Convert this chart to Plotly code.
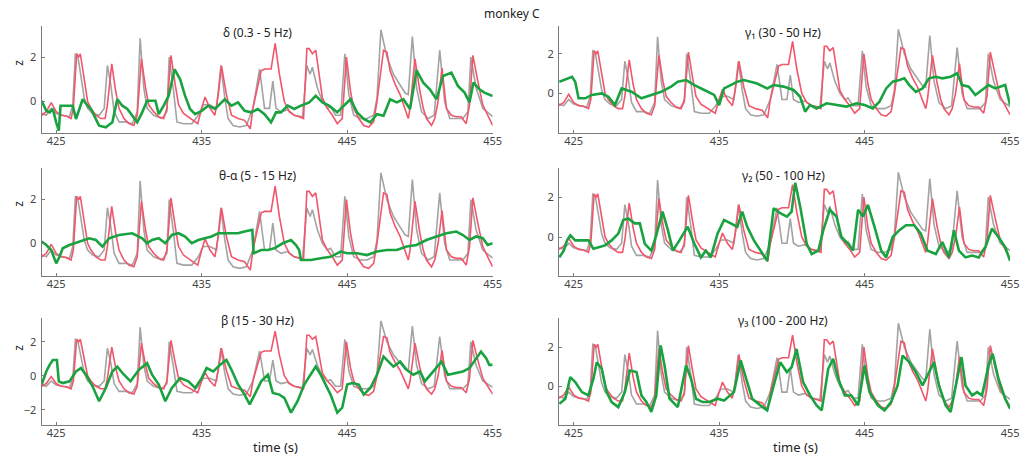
import plotly.graph_objects as go

# ---------------- data ----------------
# shared actual (gray) and reference/prediction (red) traces, time in s, value in z
gray_t = [424.0, 424.32, 424.66, 425.0, 425.45, 425.91, 426.14, 426.32, 426.48, 426.70, 426.93, 427.16, 427.5,
          427.95, 428.30, 428.52, 428.75, 428.98, 429.32, 429.77, 430.23, 430.57, 430.77, 431.02, 431.25, 431.70,
          432.27, 432.61, 432.77, 433.07, 433.30, 433.75, 434.32, 434.77, 435.11, 435.57, 436.02, 436.32, 436.59,
          436.82, 437.16, 437.61, 438.07, 438.52, 438.98, 439.32, 439.66, 439.89, 440.11, 440.45, 440.91, 441.36,
          441.93, 442.23, 442.45, 442.61, 442.95, 443.30, 443.64, 443.86, 444.20, 444.55, 444.84, 445.11, 445.45,
          445.91, 446.36, 446.82, 447.05, 447.32, 447.73, 448.18, 448.64, 448.98, 449.20, 449.48, 449.77, 450.11,
          450.57, 450.98, 451.36, 451.70, 452.05, 452.5, 452.95, 453.30, 453.50, 453.86, 454.32, 455.0]
gray_z = [-0.54, -0.62, -0.31, -0.54, -0.62, -0.69, -0.15, 2.15, 2.08, 1.23, 0.15, -0.31, -0.54,
          -0.62, -0.31, 1.62, 0.77, -0.46, -0.92, -0.92, -1.0, -0.46, 2.85, 0.62, -0.31, -0.62,
          -0.77, -0.46, 2.0, 0.46, -0.92, -1.0, -1.0, -0.62, -0.15, -0.15, -0.31, 1.62, 0.15,
          -0.77, -1.08, -1.15, -1.08, -0.31, 1.46, -0.31, -0.31, 0.92, -0.31, -0.46, -0.38, -0.62,
          -0.69, 1.62, 1.23, 1.54, 0.62, 0.0, -0.31, -0.23, -0.62, -0.62, 2.15, 0.31, -0.62,
          -0.77, -0.77, -0.62, 0.15, 3.23, 2.0, 1.23, 0.77, 0.38, 0.31, 2.92, 0.62, -0.46,
          -0.77, -0.62, 2.31, 0.0, -0.77, -0.77, -0.77, -0.46, 2.0, 0.62, -0.31, -0.68]

red_t = [424.0, 424.32, 424.66, 425.0, 425.34, 425.68, 426.02, 426.18, 426.41, 426.55, 426.66, 426.93, 427.16,
         427.39, 427.73, 428.07, 428.36, 428.52, 428.82, 429.09, 429.32, 429.66, 430.0, 430.34, 430.57, 430.86,
         431.14, 431.36, 431.70, 432.05, 432.39, 432.61, 432.89, 433.18, 433.41, 433.75, 434.09, 434.43, 434.73,
         435.0, 435.23, 435.57, 435.91, 436.14, 436.36, 436.70, 437.05, 437.5, 437.95, 438.34, 438.52, 439.09,
         439.32, 439.77, 440.05, 440.34, 440.68, 441.02, 441.36, 441.70, 442.0, 442.23, 442.39, 442.61, 442.84,
         443.07, 443.30, 443.64, 443.98, 444.32, 444.66, 444.95, 445.23, 445.45, 445.80, 446.14, 446.48, 446.82,
         447.05, 447.5, 447.73, 447.95, 448.30, 448.64, 448.98, 449.20, 449.32, 449.66, 450.0, 450.23, 450.45,
         450.80, 451.02, 451.25, 451.52, 451.82, 452.16, 452.5, 452.84, 453.18, 453.41, 453.64, 453.98, 454.32,
         454.66, 455.0]
red_z = [-0.62, -0.46, -0.05, -0.46, -0.62, -0.65, -0.77, -0.31, 2.15, 2.0, 2.15, 0.92, 0.0,
         -0.31, -0.62, -0.77, -0.77, -0.15, 1.69, 0.46, -0.31, -0.77, -1.0, -1.08, -0.62, 1.92,
         0.62, -0.15, -0.46, -0.69, -0.77, -0.31, 2.08, 0.77, -0.15, -0.54, -0.69, -0.85, -1.0,
         -0.31, 0.2, -0.31, -0.62, 0.31, 1.62, 0.31, -0.62, -0.77, -0.85, -1.23, -0.31, 1.38,
         1.46, 1.46, 2.62, 1.23, 0.0, -0.46, -0.62, -0.69, -0.77, 2.38, 2.38, 2.15, 2.31,
         1.23, 0.15, -0.31, -0.62, -1.0, -0.77, 2.0, 0.46, -0.31, -0.77, -1.08, -1.15, -0.92,
         0.0, 2.31, 2.23, 1.38, 0.77, 0.31, -0.31, -0.77, -0.31, 1.92, 0.46, -0.31, -0.77,
         -1.08, -0.77, 0.0, 1.5, -0.31, -0.62, -0.69, -0.69, -1.0, -0.15, 2.08, 0.92, -0.15,
         -0.62, -1.08]

# band-specific (green) traces
delta_t = [424.0, 424.32, 424.55, 424.77, 425.0, 425.18, 425.30, 425.68, 426.14, 426.36, 426.82, 427.16, 427.39,
           427.61, 427.95, 428.41, 428.86, 429.20, 429.55, 429.89, 430.23, 430.57, 430.91, 431.25, 431.82, 432.05,
           432.39, 432.73, 433.14, 433.52, 433.86, 434.20, 434.55, 435.0, 435.45, 435.91, 436.59, 437.05, 437.5,
           437.95, 438.41, 438.86, 439.32, 439.77, 440.11, 440.45, 440.91, 441.36, 441.82, 442.39, 442.84, 443.30,
           443.75, 444.32, 444.77, 445.23, 445.68, 446.14, 446.59, 447.05, 447.5, 447.95, 448.41, 448.86, 449.32,
           449.77, 450.23, 450.68, 451.14, 451.59, 452.16, 452.61, 453.07, 453.41, 453.68, 454.09, 454.43, 455.0]
delta_z = [0.03, -0.42, -0.49, -0.34, -0.94, -1.31, -0.19, -0.19, -0.19, -0.79, 0.1, -0.19, -0.34,
           -0.64, -1.09, -1.16, -0.94, 0.1, -0.19, -0.34, -0.64, -0.94, -0.49, 0.03, 0.03, -0.57,
           -0.19, 0.25, 1.45, 1.0, 0.25, -0.34, -0.57, -0.42, -0.19, -0.34, 0.1, -0.19, -0.04,
           -0.42, -0.49, -0.34, -0.57, -0.94, -0.49, -0.49, -0.19, -0.34, -0.19, -0.04, 0.25, -0.04,
           -0.19, -0.49, -0.19, 0.1, -0.49, -0.79, -0.94, -0.57, -0.64, 0.1, -0.04, 0.1, -0.34,
           1.4, 0.85, 0.55, 0.1, 1.15, 1.3, 0.7, 0.4, -0.04, 0.85, 0.55, 0.4, 0.25]

theta_t = [424.0, 424.32, 424.66, 425.0, 425.23, 425.45, 425.91, 426.59, 427.27, 427.73, 428.18, 428.64, 429.32,
           430.23, 430.91, 431.25, 431.59, 432.05, 432.5, 432.95, 433.41, 433.86, 434.32, 434.77, 435.23, 435.68,
           436.14, 436.82, 437.5, 437.95, 438.48, 438.57, 439.09, 439.55, 440.0, 440.57, 441.14, 441.48, 441.70,
           441.82, 442.5, 443.18, 443.86, 444.55, 445.0, 445.68, 446.36, 447.05, 447.73, 448.41, 449.09, 449.77,
           450.45, 451.14, 451.82, 452.5, 452.95, 453.41, 453.86, 454.32, 454.66, 455.0]
theta_z = [0.08, -0.08, -0.31, -0.92, -0.62, -0.23, -0.08, 0.08, 0.23, 0.15, -0.15, 0.23, 0.38,
           0.46, 0.23, 0.0, 0.15, 0.23, 0.0, 0.38, 0.46, 0.31, 0.0, 0.15, 0.23, 0.31,
           0.46, 0.46, 0.46, 0.54, 0.62, -0.46, -0.31, -0.31, -0.23, 0.0, 0.15, -0.08, -0.31,
           -0.77, -0.77, -0.69, -0.62, -0.38, -0.46, -0.46, -0.54, -0.38, -0.31, -0.31, -0.15, -0.08,
           0.15, 0.31, 0.46, 0.54, 0.38, 0.15, 0.31, 0.23, -0.08, 0.0]

beta_t = [424.0, 424.32, 424.55, 424.77, 425.05, 425.18, 425.45, 425.91, 426.36, 426.70, 427.05, 427.5, 427.95,
          428.41, 428.86, 429.20, 429.66, 430.11, 430.68, 431.25, 431.59, 432.05, 432.5, 432.95, 433.52, 434.09,
          434.55, 435.0, 435.34, 435.80, 436.25, 436.70, 437.05, 437.5, 437.95, 438.30, 438.64, 439.09, 439.55,
          439.89, 440.34, 440.68, 441.14, 441.59, 442.05, 442.5, 442.84, 443.18, 443.52, 443.86, 444.32, 444.66,
          445.0, 445.34, 445.80, 446.14, 446.59, 447.05, 447.5, 447.84, 448.18, 448.64, 449.09, 449.55, 450.0,
          450.34, 450.91, 451.48, 451.93, 452.39, 452.95, 453.41, 453.86, 454.20, 454.55, 454.77, 455.0]
beta_z = [-0.52, 0.25, 0.64, 0.93, 0.93, -0.33, -0.43, -0.33, 0.25, 0.45, 0.06, -0.62, -1.5,
          -0.72, 0.25, 0.54, 0.06, -0.33, 0.35, 0.74, 0.06, -0.52, -1.5, -0.72, -0.14, -0.33,
          -0.72, -0.14, 0.45, 0.25, 0.64, 0.93, 0.35, -0.52, -1.11, -1.69, -1.11, -0.33, 0.06,
          -1.01, -1.11, -1.30, -2.17, -1.5, -0.52, 0.06, 0.54, 0.06, -0.52, -1.11, -2.17, -1.88,
          -0.52, -0.43, -0.52, -1.11, -0.72, 0.06, 1.13, 0.83, 0.54, 0.83, 0.35, 0.06, 0.25,
          -0.33, 0.25, 0.83, 0.06, 0.16, 0.25, 0.45, 1.03, 1.42, 1.03, 0.64, 0.64]

g1_t = [424.02, 424.32, 424.66, 424.89, 425.11, 425.34, 425.80, 426.25, 426.93, 427.39, 427.84, 428.30, 428.98,
        429.66, 430.34, 431.02, 431.70, 432.16, 432.73, 433.30, 433.98, 434.66, 435.0, 435.34, 435.80, 436.25,
        436.70, 437.16, 437.61, 438.30, 438.75, 439.43, 440.11, 440.57, 440.91, 441.25, 441.70, 442.39, 443.07,
        443.75, 444.43, 445.0, 445.57, 446.02, 446.48, 446.93, 447.39, 447.73, 448.07, 448.52, 448.98, 449.43,
        449.89, 450.34, 450.91, 451.36, 451.70, 452.16, 452.61, 453.07, 453.52, 453.98, 454.43, 454.66, 455.0]
g1_z = [0.59, 0.67, 0.76, 0.84, 0.59, -0.25, -0.25, -0.08, 0.0, -0.17, -0.59, 0.25, 0.08,
        -0.25, -0.08, 0.08, 0.34, 0.59, 0.67, 0.42, 0.17, -0.08, -0.59, 0.25, 0.42, 0.59,
        0.67, 0.59, 0.50, 0.25, 0.42, 0.34, 0.17, -0.17, -0.92, -0.59, -0.76, -0.50, -0.59,
        -0.67, -0.50, -0.59, -0.76, -0.42, 0.25, 0.59, 0.67, 0.76, 0.42, 0.08, 0.25, 0.76,
        0.84, 0.76, 0.84, 1.01, 0.42, 0.34, -0.08, 0.17, 0.42, 0.25, 0.34, 0.42, -0.59]

g2_t = [424.02, 424.32, 424.55, 424.77, 425.11, 425.57, 426.02, 426.36, 426.70, 427.16, 427.61, 428.07, 428.41,
        428.75, 429.20, 429.55, 429.89, 430.34, 430.68, 431.11, 431.48, 431.82, 432.27, 432.84, 433.30, 433.75,
        434.09, 434.43, 434.89, 435.34, 435.80, 436.25, 436.59, 436.93, 437.39, 437.84, 438.30, 438.75, 439.20,
        439.66, 439.98, 440.23, 440.57, 441.02, 441.36, 441.82, 442.16, 442.61, 443.07, 443.41, 443.86, 444.20,
        444.55, 444.89, 445.23, 445.68, 446.14, 446.48, 446.93, 447.39, 447.84, 448.41, 448.86, 449.32, 449.89,
        450.34, 450.80, 451.14, 451.48, 451.93, 452.39, 452.84, 453.30, 453.75, 454.20, 454.66, 455.0]
g2_z = [-1.02, -0.68, -0.17, 0.08, -0.17, -0.17, -0.17, -0.59, -0.51, -0.42, -0.17, 0.17, 0.85,
        0.93, 0.68, 0.68, -0.34, -0.68, 0.08, 1.27, 0.34, -0.68, -0.17, 0.51, -0.34, -1.02,
        -0.68, -1.02, 0.17, 0.85, 0.68, 0.51, 1.27, 0.51, -0.17, -0.68, -1.19, 1.44, 1.19,
        1.02, 1.27, 2.71, 1.53, -0.34, -0.85, -0.68, 0.34, 1.36, 1.02, 0.0, -0.34, -0.68,
        1.36, 1.02, 1.61, 0.51, -0.68, -1.02, 0.0, 0.34, 0.59, 0.59, 0.17, -0.68, -0.85,
        -0.25, -1.02, 0.34, -0.68, -1.02, -0.93, -1.02, -0.51, 0.42, 0.0, -0.51, -1.19]

g3_t = [424.02, 424.43, 424.77, 425.11, 425.57, 426.02, 426.36, 426.59, 426.93, 427.27, 427.61, 428.07, 428.52,
        428.86, 429.32, 429.66, 430.0, 430.34, 430.68, 430.98, 431.25, 431.59, 432.16, 432.73, 433.07, 433.41,
        433.86, 434.32, 434.89, 435.34, 436.02, 436.48, 436.93, 437.27, 437.84, 438.30, 438.75, 439.20, 439.66,
        439.98, 440.32, 440.77, 441.25, 441.70, 442.05, 442.5, 442.84, 443.18, 443.64, 444.09, 444.55, 445.0,
        445.34, 445.91, 446.36, 446.82, 447.27, 447.61, 448.07, 448.52, 448.98, 449.43, 449.77, 450.11, 450.57,
        450.91, 451.36, 451.66, 451.93, 452.39, 452.73, 453.07, 453.52, 453.80, 454.20, 454.66, 455.0]
g3_z = [-0.91, -0.65, 0.46, 0.21, -0.31, -0.48, 0.38, 1.23, 0.89, -0.31, -0.82, -1.08, -0.31,
        0.80, 0.72, -0.48, -0.82, -1.33, -0.48, 2.09, 1.06, -0.65, -1.08, 1.06, 0.38, -0.65,
        -0.82, -0.82, -0.65, -0.74, -0.31, 1.32, 0.21, -0.65, -0.99, -1.25, 0.03, 1.23, 0.72,
        0.97, 1.91, 0.21, -0.48, -0.99, -1.25, 0.89, 1.40, 0.38, -0.48, -0.48, -0.99, 1.06,
        -0.31, -0.99, -1.25, -0.82, 0.03, 1.57, 1.23, 0.72, 0.03, 0.72, 1.23, 0.03, -0.99,
        -1.33, 0.38, 1.49, 0.03, -0.48, -0.31, -0.48, 1.06, 1.66, 0.38, -0.65, -1.16]

panel_titles = ["δ (0.3 - 5 Hz)", "γ₁ (30 - 50 Hz)",
                "θ-α (5 - 15 Hz)", "γ₂ (50 - 100 Hz)",
                "β (15 - 30 Hz)", "γ₃ (100 - 200 Hz)"]
green_t = [delta_t, g1_t, theta_t, g2_t, beta_t, g3_t]
green_z = [delta_z, g1_z, theta_z, g2_z, beta_z, g3_z]
y_ranges = [[-1.42, 3.4], [-2.0, 3.4], [-1.5, 3.45], [-1.95, 3.45], [-2.9, 3.4], [-2.0, 3.5]]
y_ticks = [[0, 2], [0, 2], [0, 2], [0, 2], [-2, 0, 2], [0, 2]]
x_ticks = [425, 435, 445, 455]
x_range = [424.0, 455.0]

# ---------------- layout geometry ----------------
W, H = 1032, 464
col_px = [(42, 497), (564, 1019)]
row_px = [(26, 133), (168, 276), (318, 425)]

GRAY = "#a3a3a3"
RED = "#f2566a"
GREEN = "#19a340"
AXC = "#7a7a7a"
FONT = "Noto Sans, Open Sans, sans-serif"

fig = go.Figure()
layout = dict(width=W, height=H, margin=dict(l=0, r=0, t=0, b=0),
              paper_bgcolor="white", plot_bgcolor="white", showlegend=False,
              font=dict(family=FONT, size=11, color="#333"))
annotations = []

for i in range(6):
    r, c = divmod(i, 2)
    k = "" if i == 0 else str(i + 1)
    x0, x1 = col_px[c]
    y0, y1 = row_px[r]
    layout["xaxis" + k] = dict(domain=[x0 / W, x1 / W], range=x_range, tickvals=x_ticks,
                               showline=True, linecolor=AXC, linewidth=1.3, ticks="inside",
                               ticklen=3, tickcolor=AXC, showgrid=False, zeroline=False,
                               ticklabelstandoff=-2,
                               anchor="y" + k, tickfont=dict(size=11, color="#444"))
    layout["yaxis" + k] = dict(domain=[1 - y1 / H, 1 - y0 / H], range=y_ranges[i], tickvals=y_ticks[i],
                               showline=True, linecolor=AXC, linewidth=1.3, ticks="inside",
                               ticklen=3, tickcolor=AXC, showgrid=False, zeroline=False,
                               ticklabelstandoff=2,
                               anchor="x" + k, tickfont=dict(size=11, color="#444"))
    xa, ya = "x" + k, "y" + k
    fig.add_trace(go.Scatter(x=gray_t, y=gray_z, mode="lines", line=dict(color=GRAY, width=1.6),
                             xaxis=xa, yaxis=ya, hoverinfo="skip"))
    fig.add_trace(go.Scatter(x=red_t, y=red_z, mode="lines", line=dict(color=RED, width=1.6),
                             xaxis=xa, yaxis=ya, hoverinfo="skip"))
    fig.add_trace(go.Scatter(x=green_t[i], y=green_z[i], mode="lines", line=dict(color=GREEN, width=2.6),
                             xaxis=xa, yaxis=ya, hoverinfo="skip"))
    tx = 260 if c == 0 else 790
    ty = [33, 175, 320][r]
    annotations.append(dict(text=panel_titles[i], x=tx / W, y=1 - ty / H, xref="paper", yref="paper",
                            showarrow=False, xanchor="center", yanchor="middle",
                            font=dict(size=12, color="#222")))
    if c == 0:
        zy = [63, 204, 348][r]
        annotations.append(dict(text="z", x=18 / W, y=1 - zy / H, xref="paper", yref="paper",
                                showarrow=False, textangle=-90, xanchor="center", yanchor="middle",
                                font=dict(size=12, color="#222")))

annotations.append(dict(text="monkey C", x=516 / W, y=1 - 13 / H, xref="paper", yref="paper",
                        showarrow=False, xanchor="center", yanchor="middle",
                        font=dict(size=12, color="#222")))
for tx in (278, 802):
    annotations.append(dict(text="time (s)", x=tx / W, y=1 - 447 / H, xref="paper", yref="paper",
                            showarrow=False, xanchor="center", yanchor="middle",
                            font=dict(size=13, color="#222")))

layout["annotations"] = annotations
fig.update_layout(**layout)
fig.write_html("out.html", config={"displayModeBar": False},
               post_script="document.body.style.margin='0';document.body.style.overflow='hidden';")
